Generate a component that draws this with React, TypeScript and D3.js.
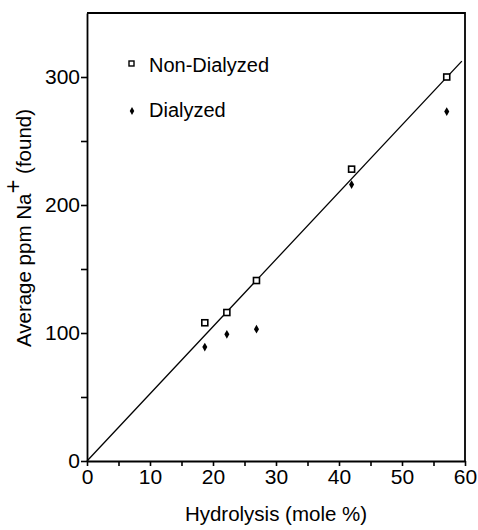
import { useEffect, useRef } from 'react';
import * as d3 from 'd3';

const hydrolysis = [18.7, 22.2, 26.9, 42, 57.1];
const nonDialyzed = [108, 116, 141, 228, 300];
const dialyzed = [89, 99, 103, 216, 273];
const fitSlope = 5.25;
const fitEnd = 59.5;
const xTicks = [0, 10, 20, 30, 40, 50, 60];
const yTicks = [0, 100, 200, 300];

const App = () => {
    const ref = useRef<SVGSVGElement>(null);

    useEffect(() => {
        const width = 478;
        const height = 530;
        const left = 87, right = 465, top = 13, bottom = 461;
        const font = 'Liberation Sans, Arial, sans-serif';

        const svg = d3.select(ref.current);
        svg.selectAll('*').remove();

        const x = d3.scaleLinear().domain([0, 60]).range([left, right]);
        const y = d3.scaleLinear().domain([0, 350]).range([bottom, top]);

        // frame
        svg.append('path')
            .attr('d', `M${left},${top}H${right}V${bottom}`)
            .attr('fill', 'none')
            .attr('stroke', '#000')
            .attr('stroke-width', 1.8);

        const xAxis = svg.append('g')
            .attr('transform', `translate(0, ${bottom})`)
            .call(d3.axisBottom(x).tickValues(d3.range(0, 61, 5)).tickSize(5).tickSizeOuter(0)
                .tickFormat(d => (xTicks.includes(+d) ? String(d) : '')));
        xAxis.select('.domain').attr('stroke-width', 1.8);
        xAxis.selectAll('line').attr('stroke-width', 1.6);
        xAxis.selectAll('text')
            .attr('font-family', font)
            .attr('font-size', 21)
            .attr('y', 6)
            .attr('dy', '0.8em')
            .attr('fill', '#000');

        const yAxis = svg.append('g')
            .attr('transform', `translate(${left}, 0)`)
            .call(d3.axisLeft(y).tickValues(d3.range(0, 350, 50)).tickSize(6).tickSizeOuter(0)
                .tickFormat(d => (yTicks.includes(+d) ? String(d) : '')));
        yAxis.select('.domain').attr('stroke-width', 1.8);
        yAxis.selectAll('line').attr('stroke-width', 1.6);
        yAxis.selectAll('text')
            .attr('font-family', font)
            .attr('font-size', 21)
            .attr('x', -7)
            .attr('fill', '#000');

        // fit line through origin
        svg.append('line')
            .attr('x1', x(0)).attr('y1', y(0))
            .attr('x2', x(fitEnd)).attr('y2', y(fitSlope * fitEnd))
            .attr('stroke', '#000')
            .attr('stroke-width', 1.3);

        const pts = hydrolysis.map((h, i) => ({ h, nd: nonDialyzed[i], d: dialyzed[i] }));

        svg.selectAll()
            .data(pts)
            .enter()
            .append('path')
            .attr('d', d3.symbol(d3.symbolDiamond, 22)())
            .attr('transform', d => `translate(${x(d.h)}, ${y(d.d)})`)
            .attr('fill', '#000');

        svg.selectAll()
            .data(pts)
            .enter()
            .append('rect')
            .attr('x', d => x(d.h) - 3)
            .attr('y', d => y(d.nd) - 3)
            .attr('width', 6)
            .attr('height', 6)
            .attr('fill', '#fff')
            .attr('stroke', '#000')
            .attr('stroke-width', 1.6);

        // legend
        svg.append('rect')
            .attr('x', 129).attr('y', 61).attr('width', 5).attr('height', 5)
            .attr('fill', '#fff').attr('stroke', '#000').attr('stroke-width', 1.4);
        svg.append('text')
            .attr('x', 149).attr('y', 72)
            .attr('font-family', font).attr('font-size', 20)
            .text('Non-Dialyzed');
        svg.append('path')
            .attr('d', d3.symbol(d3.symbolDiamond, 18)())
            .attr('transform', 'translate(132, 111)')
            .attr('fill', '#000');
        svg.append('text')
            .attr('x', 149).attr('y', 117)
            .attr('font-family', font).attr('font-size', 20)
            .text('Dialyzed');

        // axis titles
        svg.append('text')
            .attr('x', 276)
            .attr('y', 521)
            .attr('text-anchor', 'middle')
            .attr('font-family', font).attr('font-size', 20.5)
            .text('Hydrolysis (mole %)');

        const yt = svg.append('text')
            .attr('transform', `translate(31, 228) rotate(-90)`)
            .attr('text-anchor', 'middle')
            .attr('font-family', font).attr('font-size', 20.5);
        yt.append('tspan').text('Average ppm Na');
        yt.append('tspan').attr('dy', -10).attr('font-size', 24).text('+');
        yt.append('tspan').attr('dy', 10).text(' (found)');

        svg.attr('width', width).attr('height', height);
    }, []);

    return (
        <svg ref={ref} width={478} height={530} style={{ display: 'block', position: 'absolute', left: 0, top: 0 }}></svg>
    );
};

export default App;
